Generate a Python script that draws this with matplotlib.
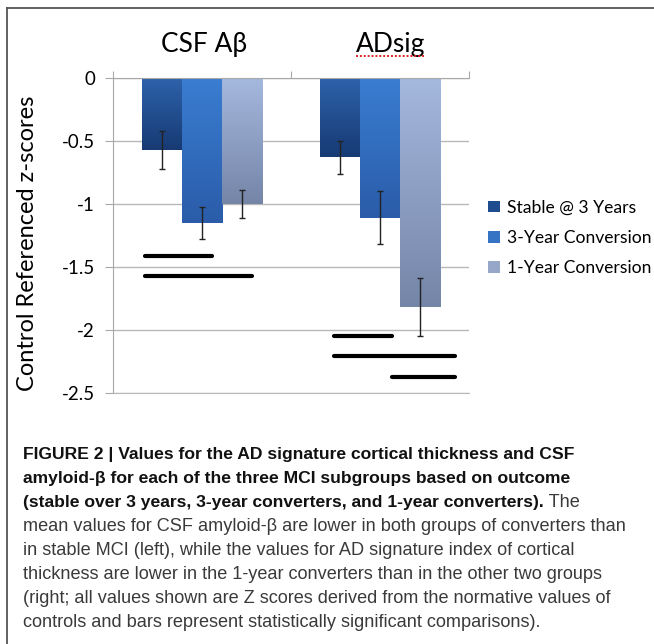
import numpy as np
import matplotlib
matplotlib.use('Agg')
import matplotlib.pyplot as plt
from matplotlib.colors import LinearSegmentedColormap
from matplotlib.patches import Patch
from matplotlib.lines import Line2D

# ---- data ----
groups = ['CSF Aβ', 'ADsig']
series = ['Stable @ 3 Years', '3-Year Conversion', '1-Year Conversion']

stable_mean = [-0.57, -0.63]
conv3_mean = [-1.15, -1.11]
conv1_mean = [-1.00, -1.82]

stable_err = [0.15, 0.13]
conv3_err = [0.13, 0.21]
conv1_err = [0.11, 0.23]

# significance bars (x in category units, 0 = CSF, 1 = ADsig)
sig_y = [-1.41, -1.57, -2.05, -2.21, -2.37]
sig_x0 = [-0.32, -0.32, 0.744, 0.744, 1.065]
sig_x1 = [0.056, 0.28, 1.065, 1.42, 1.42]

yticks = [-2.5, -2, -1.5, -1, -0.5, 0]
ytick_labels = ['-2.5', '-2', '-1.5', '-1', '-0.5', '0']

caption_bold = [
    'FIGURE 2 | Values for the AD signature cortical thickness and CSF',
    'amyloid-β for each of the three MCI subgroups based on outcome',
    '(stable over 3 years, 3-year converters, and 1-year converters).',
]
caption_tail = ' The'
caption_regular = [
    'mean values for CSF amyloid-β are lower in both groups of converters than',
    'in stable MCI (left), while the values for AD signature index of cortical',
    'thickness are lower in the 1-year converters than in the other two groups',
    '(right; all values shown are Z scores derived from the normative values of',
    'controls and bars represent statistically significant comparisons).',
]

# (top, bottom) gradient colours per series
grad_colors = [('#2d62ab', '#173a73'), ('#3a7dd1', '#2a5ca9'), ('#a5b8dd', '#7485a8')]
legend_colors = ['#1f4c8e', '#3573c4', '#97a7c9']

W, H = 654, 644
CHART_FONT = ['Lato', 'DejaVu Sans']
CAP_FONT = ['Liberation Sans', 'DejaVu Sans']

fig = plt.figure(figsize=(W / 100, H / 100), dpi=100)
ax = fig.add_axes([113 / W, 1 - 393 / H, 356 / W, 315 / H])

x = np.arange(len(groups))
width = 0.225
means = [stable_mean, conv3_mean, conv1_mean]
errs = [stable_err, conv3_err, conv1_err]
grad = np.linspace(0, 1, 256).reshape(-1, 1)

for i, (m, e) in enumerate(zip(means, errs)):
    xs = x + (i - 1) * width
    bars = ax.bar(xs, m, width, color='none', edgecolor='none', zorder=2)
    cmap = LinearSegmentedColormap.from_list(f'g{i}', list(grad_colors[i]))
    for r in bars:
        x0, y0 = r.get_xy()
        ax.imshow(grad, cmap=cmap, aspect='auto', origin='upper', zorder=2,
                  extent=[x0, x0 + r.get_width(), y0 + r.get_height(), y0])
    ax.errorbar(xs, m, yerr=e, fmt='none', ecolor='#222222', elinewidth=1.0,
                capsize=2.5, capthick=1.0, zorder=4)

ax.hlines(sig_y, sig_x0, sig_x1, colors='black', linewidth=3.0, zorder=4,
          capstyle='round')

ax.set_xlim(-0.5, 1.5)
ax.set_ylim(-2.5, 0)
ax.set_yticks(yticks)
ax.set_yticklabels(ytick_labels, fontsize=13.5, family=CHART_FONT)
ax.yaxis.grid(True, color='#b8b8b8', linewidth=1.0)
ax.set_axisbelow(True)

ax.xaxis.tick_top()
ax.set_xticks([-0.5, 0.5, 1.5])
ax.set_xticklabels([])
ax.tick_params(axis='x', direction='out', length=5, color='#a8a8a8')
ax.tick_params(axis='y', direction='out', length=6, color='#a8a8a8', pad=7)
for side in ['left', 'top']:
    ax.spines[side].set_color('#a8a8a8')
ax.spines['bottom'].set_color('#b8b8b8')
ax.spines['right'].set_visible(False)

# group titles above the plot
title_x = [0.01, 1.06]
titles = []
for gx, g in zip(title_x, groups):
    t = ax.text(gx, 1.106, g, transform=ax.get_xaxis_transform(), ha='center',
                va='center', fontsize=19, family=CHART_FONT, color='black')
    titles.append(t)

fig.text(28 / W, 1 - 243 / H, 'Control Referenced z-scores', rotation=90,
         ha='center', va='center', fontsize=17, family=CHART_FONT)

handles = [Patch(facecolor=c, edgecolor='none') for c in legend_colors]
fig.legend(handles, series, loc='center left', bbox_to_anchor=(488 / W, 1 - 238 / H),
           frameon=False, prop={'family': CHART_FONT, 'size': 12.6},
           handlelength=0.67, handleheight=0.67, handletextpad=0.4,
           labelspacing=0.82, borderpad=0, borderaxespad=0)

# caption
x_cap = 23 / W
base = 459
for k, line in enumerate(caption_bold):
    t = fig.text(x_cap, 1 - (base + 24 * k) / H, line, fontsize=12.6,
                 fontweight='bold', family=CAP_FONT, color='#111111', va='baseline')
last_bold = t
for k, line in enumerate(caption_regular):
    fig.text(x_cap, 1 - (base + 24 * (k + 3)) / H, line, fontsize=13.1,
             family=CAP_FONT, color='#3a3a3a', va='baseline')

renderer = fig.canvas.get_renderer()
bb = last_bold.get_window_extent(renderer)
fig.text(bb.x1 / W, 1 - (base + 48) / H, caption_tail, fontsize=13.1,
         family=CAP_FONT, color='#3a3a3a', va='baseline')

# red spell-check underline under "ADsig"
tb = titles[1].get_window_extent(renderer)
fig.add_artist(Line2D([tb.x0 / W, tb.x1 / W], [(tb.y0 + 1) / H] * 2,
                      color='#e02020', linewidth=1.4, linestyle=(0, (1, 1))))

# panel border (top and left)
fig.add_artist(Line2D([7 / W, 1], [1 - 8 / H] * 2, color='#555555', linewidth=1.3))
fig.add_artist(Line2D([7 / W] * 2, [0, 1 - 8 / H], color='#555555', linewidth=1.3))

fig.savefig('out.png', dpi=100)
